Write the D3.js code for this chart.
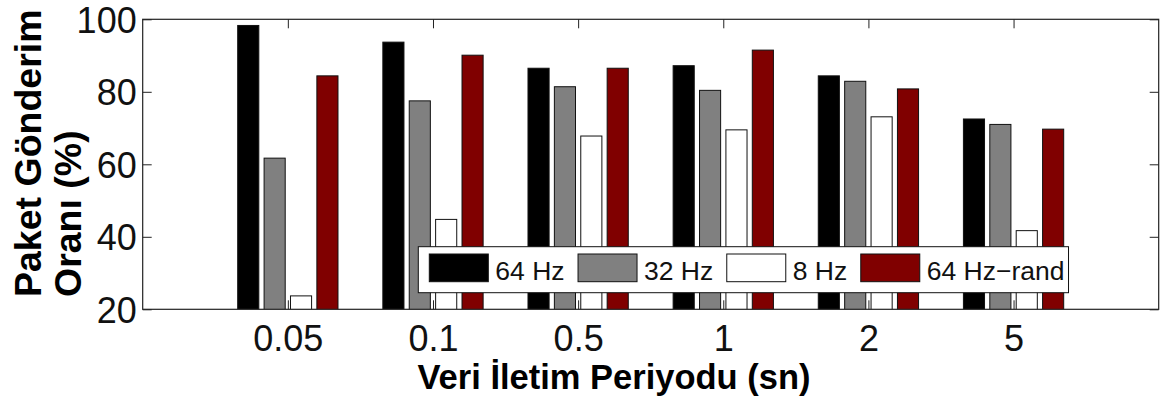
<!DOCTYPE html>
<html>
<head>
<meta charset="utf-8">
<script src="https://cdn.jsdelivr.net/npm/d3@7"></script>
<style>
  html, body { margin: 0; padding: 0; background: #fff; }
  svg { display: block; font-family: "Liberation Sans", Arial, Helvetica, sans-serif; }
</style>
</head>
<body>
<svg id="chart" width="1160" height="405"></svg>
<script>
// Packet delivery ratio per data transmission period
const categories = ["0.05", "0.1", "0.5", "1", "2", "5"];
const seriesNames = ["64 Hz", "32 Hz", "8 Hz", "64 Hz\u2212rand"];
const hz64 = [98.3, 93.7, 86.5, 87.2, 84.4, 72.5];
const hz32 = [61.7, 77.5, 81.4, 80.4, 82.9, 71.0];
const hz8 = [23.7, 44.8, 67.8, 69.5, 73.1, 41.7];
const hz64rand = [84.4, 90.1, 86.5, 91.5, 80.8, 69.7];
const yTicks = [20, 40, 60, 80, 100];

const series = [hz64, hz32, hz8, hz64rand];
const fills = ["#000000", "#808080", "#ffffff", "#800000"];

const svg = d3.select("#chart");
const box = { left: 142.7, right: 1158.7, top: 19.3, bottom: 309.3 };

// categories sit at 1..n on a 0..n+1 axis
const x = d3.scaleLinear().domain([0, categories.length + 1]).range([box.left, box.right]);
const y = d3.scaleLinear().domain([20, 100]).range([box.bottom, box.top]);

// grouped bar geometry
const nSeries = series.length;
const groupWidth = Math.min(0.8, nSeries / (nSeries + 1.5));
const slot = groupWidth / nSeries;
const barW = 0.8 * slot;
const offset = j => -groupWidth / 2 + (j + 0.5) * slot;

svg.append("defs").append("clipPath").attr("id", "plotClip")
  .append("rect")
  .attr("x", box.left).attr("y", box.top)
  .attr("width", box.right - box.left).attr("height", box.bottom - box.top);

const bars = svg.append("g").attr("clip-path", "url(#plotClip)");
series.forEach((vals, j) => {
  bars.append("g").selectAll("rect").data(vals).join("rect")
    .attr("x", (d, i) => x(i + 1 + offset(j) - barW / 2))
    .attr("width", (d, i) => x(i + 1 + offset(j) + barW / 2) - x(i + 1 + offset(j) - barW / 2))
    .attr("y", d => y(d))
    .attr("height", d => y.range()[0] - y(d) + 2)
    .attr("fill", fills[j])
    .attr("stroke", "#111")
    .attr("stroke-width", 1);
});

// axes: box with inward ticks on all sides
const axisColor = "#222";
const tickLen = 9;
const axisG = svg.append("g");

const yLeft = d3.axisLeft(y).tickValues(yTicks).tickSize(-tickLen).tickPadding(6).tickFormat(d3.format("d"));
const gL = axisG.append("g").attr("transform", `translate(${box.left},0)`).call(yLeft);
gL.select(".domain").remove();
gL.selectAll("line").attr("stroke", axisColor);
gL.selectAll("text").attr("font-size", 36).attr("fill", "#111").attr("dy", "0.36em");

const yRight = d3.axisRight(y).tickValues(yTicks).tickSize(-tickLen).tickFormat("");
const gR = axisG.append("g").attr("transform", `translate(${box.right},0)`).call(yRight);
gR.select(".domain").remove();
gR.selectAll("line").attr("stroke", axisColor);

const xBottom = d3.axisBottom(x).tickValues(d3.range(1, categories.length + 1))
  .tickSize(-tickLen).tickPadding(18).tickFormat(d => categories[d - 1]);
const gB = axisG.append("g").attr("transform", `translate(0,${box.bottom})`).call(xBottom);
gB.select(".domain").remove();
gB.selectAll("line").attr("stroke", axisColor);
gB.selectAll("text").attr("font-size", 36).attr("fill", "#111").attr("dy", "0").attr("y", 42);

const xTop = d3.axisTop(x).tickValues(d3.range(1, categories.length + 1)).tickSize(-tickLen).tickFormat("");
const gT = axisG.append("g").attr("transform", `translate(0,${box.top})`).call(xTop);
gT.select(".domain").remove();
gT.selectAll("line").attr("stroke", axisColor);

axisG.append("rect")
  .attr("x", box.left).attr("y", box.top)
  .attr("width", box.right - box.left).attr("height", box.bottom - box.top)
  .attr("fill", "none").attr("stroke", axisColor).attr("stroke-width", 1.2);

// legend
const legend = svg.append("g");
const legBox = legend.append("rect")
  .attr("x", 418.3).attr("y", 246.7).attr("height", 46)
  .attr("fill", "#fff").attr("stroke", "#111").attr("stroke-width", 1);
let lx = 429.3;
seriesNames.forEach((name, j) => {
  legend.append("rect")
    .attr("x", lx).attr("y", 254).attr("width", 59).attr("height", 27.7)
    .attr("fill", fills[j]).attr("stroke", "#111").attr("stroke-width", 1);
  const t = legend.append("text")
    .attr("x", lx + 66).attr("y", 279.8)
    .attr("font-size", 26.5).attr("fill", "#111")
    .text(name);
  lx = lx + 66 + t.node().getComputedTextLength() + 13.5;
});
legBox.attr("width", lx - 13.5 + 4 - 418.3);

// axis titles
svg.append("text")
  .attr("x", 614).attr("y", 389)
  .attr("text-anchor", "middle")
  .attr("font-size", 34.5).attr("font-weight", "bold").attr("fill", "#000")
  .text("Veri \u0130letim Periyodu (sn)");

const yTitle = svg.append("g").attr("font-size", 37.5).attr("font-weight", "bold").attr("fill", "#000");
yTitle.append("text")
  .attr("transform", "translate(40.5,297) rotate(-90)")
  .text("Paket G\u00f6nderim");
yTitle.append("text")
  .attr("transform", "translate(80.5,297) rotate(-90)")
  .text("Oran\u0131 (%)");
</script>
</body>
</html>
